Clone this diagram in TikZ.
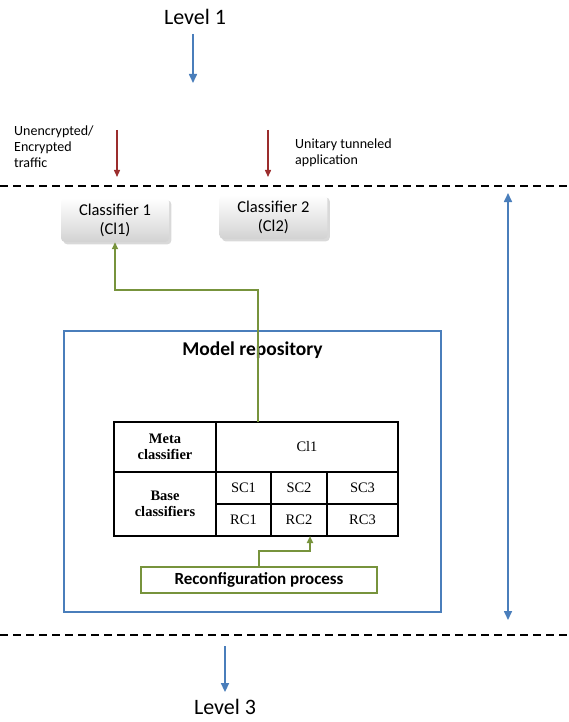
\documentclass[tikz,border=0pt]{standalone}
\usepackage{fontspec}
\setmainfont{Carlito}
\newfontfamily\tablefont{Liberation Serif}
\usepackage{tikz}
\usetikzlibrary{arrows.meta, positioning, calc, shadows}
\definecolor{lvlblue}{HTML}{4A7EBB}
\definecolor{trafred}{HTML}{9B2D2D}
\definecolor{procgreen}{HTML}{77933C}

\begin{document}
\begin{tikzpicture}[
	x=1pt, y=-1pt,
	every node/.style={font=\fontsize{14}{16}\selectfont, inner sep=0pt},
	classifier/.style={rectangle, rounded corners=4pt, top color=white, bottom color=gray!35, drop shadow={opacity=0.3}, minimum width=108pt, minimum height=44pt, align=center, font=\fontsize{16.5}{19}\selectfont},
	cell/.style={rectangle, draw=black, line width=1.8pt, outer sep=0pt, align=center, font=\tablefont\fontsize{14.5}{16}\selectfont},
	bluearrow/.style={-{Triangle[length=9pt,width=8pt]}, draw=lvlblue, line width=1.6pt},
	redarrow/.style={-{Triangle[length=7pt,width=6pt]}, draw=trafred, line width=1.4pt},
	greenarrow/.style={-{Triangle[length=7pt,width=6pt]}, draw=procgreen, line width=1.9pt},
	level/.style={font=\fontsize{22}{25}\selectfont}
]
\useasboundingbox (0,0) rectangle (568,722);

% Levels
\node[level] (lvl1) at (195,17) {Level 1};
\coordinate (lvl1end) at (193,83);
\draw[bluearrow] ($(lvl1.south -| lvl1end)+(0,9)$) -- (lvl1end);
\node[level] (lvl3) at (225,707) {Level 3};
\coordinate (lvl3start) at (225,646);
\draw[bluearrow] (lvl3start) -- ($(lvl3.north -| lvl3start)+(0,-7)$);

% Dashed borders
\coordinate (topL) at (0,186);
\coordinate (topR) at (568,186);
\coordinate (botL) at (0,635);
\coordinate (botR) at (568,635);
\draw[dashed, dash pattern=on 8pt off 5pt, line width=1.8pt] (topL) -- (topR);
\draw[dashed, dash pattern=on 8pt off 5pt, line width=1.8pt] (botL) -- (botR);

% Inputs
\node[align=left, anchor=north west] (traffic) at (14,126) {Unencrypted/\\Encrypted\\traffic};
\node[align=left, anchor=north west] (tunnel) at (295,139) {Unitary tunneled\\application};
\coordinate (in1) at (117,130);
\coordinate (in2) at (268,130);

% Classifiers
\node[classifier] (cls1) at (115,220) {Classifier 1\\(Cl1)};
\node[classifier, right=50pt of cls1, yshift=3pt] (cls2) {Classifier 2\\(Cl2)};
\draw[redarrow] (in1) -- ($(in1 |- topL)+(0,-9)$);
\draw[redarrow] (in2) -- ($(in2 |- topL)+(0,-9)$);

% Model repository
\node[rectangle, draw=lvlblue, line width=1.9pt, minimum width=377pt, minimum height=281pt] (repo) at (252.5,471.5) {};
\node[font=\bfseries\fontsize{19.5}{22}\selectfont, below=12pt of repo.north] (repotitle) {Model repository};

% Table
\node[cell, minimum width=102pt, minimum height=50pt] (meta) at (165,447) {\textbf{Meta}\\\textbf{classifier}};
\node[cell, minimum width=182pt, minimum height=50pt, right=0pt of meta] (cl1) {Cl1};
\node[cell, minimum width=102pt, minimum height=64pt, below=0pt of meta] (base) {\textbf{Base}\\\textbf{classifiers}};
\node[cell, minimum width=55pt, minimum height=32pt, anchor=north west] (sc1) at (base.north east) {SC1};
\node[cell, minimum width=56pt, minimum height=32pt, right=0pt of sc1] (sc2) {SC2};
\node[cell, minimum width=71pt, minimum height=32pt, right=0pt of sc2] (sc3) {SC3};
\node[cell, minimum width=55pt, minimum height=32pt, below=0pt of sc1] (rc1) {RC1};
\node[cell, minimum width=56pt, minimum height=32pt, below=0pt of sc2] (rc2) {RC2};
\node[cell, minimum width=71pt, minimum height=32pt, below=0pt of sc3] (rc3) {RC3};

% Reconfiguration
\node[rectangle, draw=procgreen, line width=1.9pt, minimum width=236pt, minimum height=26pt, font=\bfseries\fontsize{17}{19}\selectfont] (reconf) at (259,580) {Reconfiguration process};

% Connectors
\coordinate (tap) at ($(cl1.north west)+(42,0)$);
\draw[greenarrow] (tap) -- ++(0,-132) -| (cls1.south);
\draw[greenarrow] (reconf.north) -- ++(0,-15) -| ($(rc2.south)+(11,0)$);
\coordinate (spanTop) at (508,186);
\coordinate (spanBot) at (508,635);
\draw[bluearrow, {Triangle[length=9pt,width=8pt]}-{Triangle[length=9pt,width=8pt]}] ($(spanTop)+(0,7)$) -- ($(spanBot)+(0,-15)$);

\end{tikzpicture}
\end{document}
